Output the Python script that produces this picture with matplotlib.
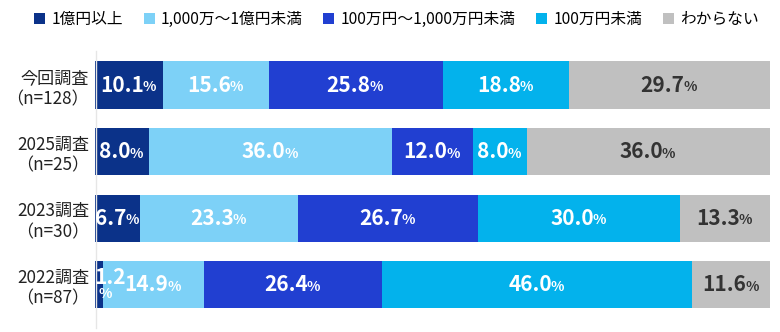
import numpy as np
import matplotlib.pyplot as plt
from matplotlib.patches import Patch

plt.rcParams['font.family'] = ['Noto Sans CJK JP', 'DejaVu Sans']

surveys = ['今回調査\n（n=128）', '2025調査\n（n=25）', '2023調査\n（n=30）', '2022調査\n（n=87）']
categories = ['1億円以上', '1,000万～1億円未満', '100万円～1,000万円未満', '100万円未満', 'わからない']
over_100m = [10.1, 8.0, 6.7, 1.2]
from_10m = [15.6, 36.0, 23.3, 14.9]
from_1m = [25.8, 12.0, 26.7, 26.4]
under_1m = [18.8, 8.0, 30.0, 46.0]
unknown = [29.7, 36.0, 13.3, 11.6]

colors = ['#0b3289', '#7dd1f7', '#213fd1', '#03b2ec', '#c0c0c0']
text_colors = ['white', 'white', 'white', 'white', '#333333']


def put_label(ax, x, y, value, color, wrap=False):
    num = f'{value:.1f}'
    if wrap:
        t = ax.annotate(num, (x, y), xytext=(8, 5), textcoords='offset points',
                        ha='center', va='center', fontsize=15, fontweight='bold', color=color)
        ax.annotate('%', (0.5, 0), xycoords=t, xytext=(-4, 1), textcoords='offset points',
                    ha='center', va='top', fontsize=10, fontweight='bold', color=color)
        return
    t = ax.annotate(num, (x, y), xytext=(-5, 0), textcoords='offset points',
                    ha='center', va='center', fontsize=15, fontweight='bold', color=color)
    ax.annotate('%', (1, 0.5), xycoords=t, xytext=(-1, -1.5), textcoords='offset points',
                ha='left', va='center', fontsize=10, fontweight='bold', color=color)


def main():
    series = [over_100m, from_10m, from_1m, under_1m, unknown]
    fig = plt.figure(figsize=(7.8, 3.32), dpi=100)
    ax = fig.add_axes([0.122, 0.012, 0.865, 0.834])

    for s in ['top', 'right', 'bottom']:
        ax.spines[s].set_visible(False)
    ax.spines['left'].set_color('#e6e6e6')
    ax.spines['left'].set_linewidth(1)
    ax.spines['left'].set_position(('data', 0.15))

    y = np.arange(len(surveys))
    left = np.zeros(len(surveys))
    for vals, c, tc in zip(series, colors, text_colors):
        vals = np.array(vals)
        ax.barh(y, vals, left=left, height=0.71, color=c, edgecolor='none')
        for i, v in enumerate(vals):
            put_label(ax, left[i] + v / 2, y[i], v, tc, wrap=(v < 3))
        left += vals

    ax.set_xlim(0, 100)
    ax.set_ylim(3.65, -0.51)
    ax.set_yticks(y)
    ax.set_yticklabels(surveys, fontsize=12.3, color='#222222', linespacing=1.2)
    ax.tick_params(axis='y', length=0, pad=5)
    ax.set_xticks([])

    handles = [Patch(facecolor=c, edgecolor='none') for c in colors]
    fig.legend(handles, categories, loc='upper left', bbox_to_anchor=(0.03, 1.0), ncol=5,
               frameon=False, fontsize=11.3, handlelength=0.7, handleheight=0.7,
               handletextpad=0.4, columnspacing=1.3, borderaxespad=0.3)

    fig.savefig('out.png', dpi=100)


if __name__ == '__main__':
    main()
